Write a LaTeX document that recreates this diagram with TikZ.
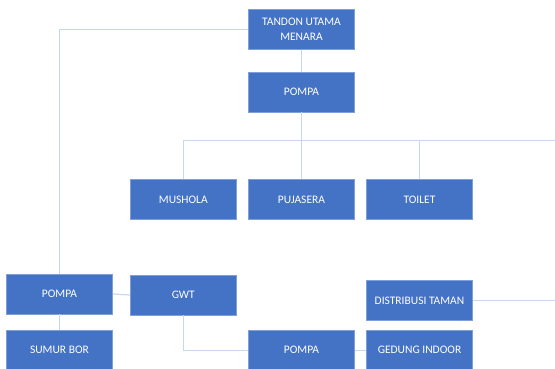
\documentclass[tikz,border=0pt]{standalone}
\usepackage{fontspec}
\setmainfont{Carlito}
\definecolor{boxblue}{HTML}{4472C4}
\definecolor{boxedge}{HTML}{7F9FD8}
\definecolor{linkblue}{HTML}{C8D6EE}
\begin{document}
\begin{tikzpicture}[x=1pt,y=-1pt,
  box/.style={rectangle,fill=boxblue,draw=boxedge,line width=0.6pt,minimum width=106pt,minimum height=40pt,inner sep=1pt,text=white,font=\fontsize{11.5}{14.5}\selectfont,align=center},
  link/.style={draw=linkblue,line width=1.2pt}]
\useasboundingbox (0,0) rectangle (555,369);
\coordinate (busR) at (555,140.7);
\coordinate (tamanR) at (555,300.7);
\node[box] (tandon) at (301.5,29.5) {TANDON UTAMA\\MENARA};
\node[box] (pompaT) at (301.5,92) {POMPA};
\node[box] (mushola) at (183.3,199.5) {MUSHOLA};
\node[box] (pujasera) at (301.5,199.5) {PUJASERA};
\node[box] (toilet) at (419.5,199.5) {TOILET};
\node[box] (pompaL) at (59.5,294) {POMPA};
\node[box] (gwt) at (183.3,295) {GWT};
\node[box] (sumur) at (59.5,350.3) {SUMUR BOR};
\node[box] (taman) at (419.5,300.7) {DISTRIBUSI TAMAN};
\node[box] (pompaB) at (301.5,350.3) {POMPA};
\node[box] (gedung) at (419.5,350.3) {GEDUNG INDOOR};
\path[link] (tandon.west) -| (pompaL.north);
\path[link] (tandon.south) -- (pompaT.north);
\path[link] (pompaT.south) -- (pujasera.north);
\path[link] (mushola.north) |- (busR);
\path[link] (toilet.north) -- (toilet.north |- busR);
\path[link] (pompaL.east) -- (gwt.west);
\path[link] (pompaL.south) -- (sumur.north);
\path[link] (gwt.south) |- (pompaB.west);
\path[link] (pompaB.east) -- (gedung.west);
\path[link] (taman.east) -- (tamanR);
\end{tikzpicture}
\end{document}
